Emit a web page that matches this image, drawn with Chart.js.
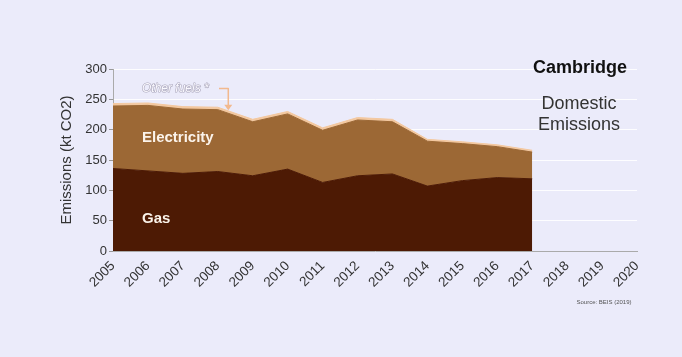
<!DOCTYPE html>
<html>
<head>
<meta charset="utf-8">
<script src="https://cdn.jsdelivr.net/npm/chart.js@4/dist/chart.umd.min.js"></script>
<style>
  html, body { margin: 0; padding: 0; background: #ebebfa; }
  #wrap { width: 682px; height: 357px; position: relative; }
</style>
</head>
<body>
<div id="wrap"><canvas id="chart"></canvas></div>
<script>
// Domestic CO2 emissions for Cambridge, kt, by fuel
const years = ['2005', '2006', '2007', '2008', '2009', '2010', '2011', '2012',
               '2013', '2014', '2015', '2016', '2017', '2018', '2019', '2020'];
const gas         = [136, 132, 128, 131, 124, 135, 113, 124, 127, 107, 116, 121, 119, null, null, null];
const electricity = [103, 108, 106, 102,  89,  91,  86,  92,  86,  74,  61,  51,  44, null, null, null];
const otherFuels  = [  4,   4,   4,   4,   4,   4,   4,   4,   4,   3,   3,   3,   3, null, null, null];
const yTicks = [0, 50, 100, 150, 200, 250, 300];

const FONT = '"Liberation Sans", Arial, sans-serif';

const bgPlugin = {
    id: 'bg',
    beforeDraw(chart) {
        const ctx = chart.ctx;
        ctx.save();
        ctx.fillStyle = '#ebebfa';
        ctx.fillRect(0, 0, chart.width, chart.height);
        ctx.restore();
    }
};

// labels inside the areas, axis title, titles and the "other fuels" pointer
const notesPlugin = {
    id: 'notes',
    afterDatasetsDraw(chart) {
        const ctx = chart.ctx;
        const x = chart.scales.x, y = chart.scales.y;
        ctx.save();

        // y axis title
        ctx.save();
        ctx.translate(67, (y.top + y.bottom) / 2);
        ctx.rotate(-Math.PI / 2);
        ctx.textAlign = 'center';
        ctx.textBaseline = 'middle';
        ctx.fillStyle = '#333';
        ctx.font = '15px ' + FONT;
        ctx.fillText('Emissions (kt CO2)', 0, 0);
        ctx.restore();

        ctx.fillStyle = '#fbf3ea';
        ctx.font = 'bold 15px ' + FONT;
        ctx.textBaseline = 'middle';
        ctx.textAlign = 'left';
        ctx.fillText('Electricity', x.getPixelForValue(0) + 29, y.getPixelForValue(186));
        ctx.fillText('Gas', x.getPixelForValue(0) + 29, y.getPixelForValue(53));

        // Other fuels label with bent arrow down to the thin band
        ctx.font = 'italic 12px ' + FONT;
        ctx.strokeStyle = '#aaa6bb';
        ctx.lineWidth = 1.2;
        ctx.lineJoin = 'round';
        ctx.strokeText('Other fuels *', 142, y.getPixelForValue(268));
        ctx.fillStyle = '#fbfaff';
        ctx.fillText('Other fuels *', 142, y.getPixelForValue(268));

        const ax = x.getPixelForValue(3.3);
        ctx.strokeStyle = '#f2b98e';
        ctx.lineWidth = 1.5;
        ctx.beginPath();
        ctx.moveTo(219, y.getPixelForValue(268));
        ctx.lineTo(ax, y.getPixelForValue(268));
        ctx.lineTo(ax, y.getPixelForValue(236));
        ctx.stroke();
        ctx.fillStyle = '#f2b98e';
        ctx.beginPath();
        ctx.moveTo(ax - 4, y.getPixelForValue(241));
        ctx.lineTo(ax + 4, y.getPixelForValue(241));
        ctx.lineTo(ax, y.getPixelForValue(232));
        ctx.closePath();
        ctx.fill();

        // titles
        ctx.textAlign = 'center';
        ctx.fillStyle = '#111';
        ctx.font = 'bold 18px ' + FONT;
        ctx.fillText('Cambridge', 580, 68);
        ctx.fillStyle = '#333';
        ctx.font = '18px ' + FONT;
        ctx.fillText('Domestic', 579, 104);
        ctx.fillText('Emissions', 579, 125);

        ctx.font = '6px ' + FONT;
        ctx.fillStyle = '#555';
        ctx.fillText('Source: BEIS (2019)', 604, 302);
        ctx.restore();
    }
};

const areaStyle = (label, data, colour, fill) => ({
    label: label,
    data: data,
    backgroundColor: colour,
    borderColor: colour,
    borderWidth: 1,
    pointRadius: 0,
    tension: 0,
    fill: fill,
    spanGaps: false
});

new Chart(document.getElementById('chart'), {
    type: 'line',
    data: {
        labels: years,
        datasets: [
            areaStyle('Gas', gas, '#4d1a04', 'origin'),
            areaStyle('Electricity', electricity, '#9c6835', '-1'),
            areaStyle('Other fuels', otherFuels, '#f3c8a0', '-1')
        ]
    },
    options: {
        responsive: true,
        maintainAspectRatio: false,
        animation: false,
        devicePixelRatio: 1,
        layout: { padding: { top: 69, right: 45, left: 0, bottom: 0 } },
        plugins: {
            legend: { display: false },
            tooltip: { enabled: false }
        },
        scales: {
            x: {
                offset: false,
                grid: { display: false, drawTicks: true, tickLength: 4, tickColor: '#999' },
                border: { color: '#aaa', width: 1 },
                ticks: {
                    minRotation: 45,
                    maxRotation: 45,
                    autoSkip: false,
                    color: '#333',
                    font: { family: FONT, size: 13.5 },
                    padding: 3
                },
                afterFit(scale) { scale.height = 106; }
            },
            y: {
                stacked: true,
                min: 0,
                max: 300,
                afterBuildTicks(scale) { scale.ticks = yTicks.map(v => ({ value: v })); },
                grid: {
                    color: 'rgba(255,255,255,0.9)',
                    lineWidth: 1,
                    tickLength: 4,
                    tickColor: '#999'
                },
                border: { color: '#aaa', width: 1 },
                ticks: {
                    color: '#333',
                    font: { family: FONT, size: 13 },
                    padding: 2
                },
                afterFit(scale) { scale.width = 113; }
            }
        }
    },
    plugins: [bgPlugin, notesPlugin]
});
</script>
</body>
</html>
